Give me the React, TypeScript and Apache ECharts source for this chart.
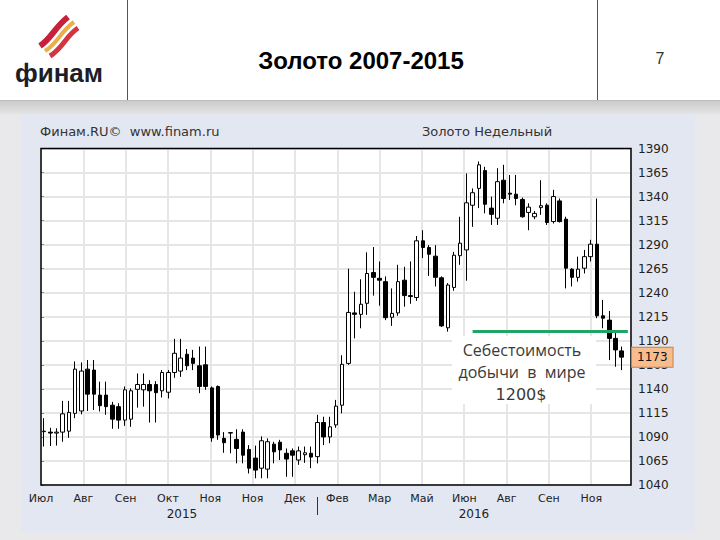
import React, { useEffect, useRef } from 'react';
import * as echarts from 'echarts';

// Weekly gold candles (price, USD)
const opens = [
  1095.5, 1095, 1094, 1095, 1096, 1114.5, 1117, 1160.5, 1159.5, 1133.5,
  1133.5, 1123, 1121.5, 1107.5, 1108.5, 1139.5, 1139, 1144.5, 1144.5, 1138,
  1136.5, 1157, 1158.5, 1176, 1172, 1164, 1165, 1141, 1142.5, 1088.5,
  1094, 1087.5, 1095, 1077, 1068, 1057.5, 1056.5, 1082.5, 1084.5, 1073,
  1075.5, 1066, 1071.5, 1073, 1069.5, 1105, 1090, 1102.5, 1123, 1166.5,
  1219, 1217.5, 1229, 1261, 1255, 1251.5, 1214.5, 1219, 1253, 1237,
  1235, 1294, 1287, 1278, 1255.5, 1203.5, 1245.5, 1278.5, 1284.5, 1331,
  1348.5, 1367, 1328, 1317.5, 1357, 1343.5, 1342.5, 1337, 1323.5, 1319,
  1328.5, 1331, 1314, 1335.5, 1316.5, 1264.5, 1256, 1265.5, 1277.5, 1290.5,
  1216, 1211.5, 1192.5, 1179.5,
];
const closes = [
  1096, 1094, 1095, 1114, 1115.5, 1160.5, 1158.5, 1134.5, 1134.5, 1122.5,
  1121.5, 1108.5, 1107.5, 1139, 1138, 1144.5, 1144.5, 1138, 1136, 1157,
  1157, 1177, 1172, 1164, 1166.5, 1142.5, 1142.5, 1089, 1092, 1084,
  1094.5, 1078, 1071, 1057.5, 1055.5, 1086, 1085, 1074.5, 1076.5, 1067,
  1071, 1075.5, 1073.5, 1069, 1105, 1090, 1100.5, 1122, 1165.5, 1219.5,
  1217.5, 1228, 1260, 1256, 1253, 1214, 1218.5, 1251.5, 1237, 1236,
  1294, 1287, 1280, 1256, 1205.5, 1248, 1279, 1291.5, 1333.5, 1344,
  1373, 1332, 1321.5, 1355.5, 1338, 1342.5, 1338, 1319, 1329, 1322.5,
  1330.5, 1313, 1340, 1314, 1265.5, 1256, 1264.5, 1277.5, 1290.5, 1216,
  1213.5, 1192.5, 1180.5, 1173,
];
const lows = [
  1080, 1080.5, 1081, 1085, 1089, 1109.5, 1113.5, 1117, 1118, 1116.5,
  1113, 1098.5, 1098.5, 1101.5, 1100.5, 1120.5, 1121.5, 1105, 1105, 1131,
  1130, 1151.5, 1152.5, 1159.5, 1159.5, 1135.5, 1139, 1085, 1087, 1073.5,
  1073, 1062.5, 1062.5, 1052, 1047, 1047, 1047, 1062.5, 1066, 1048.5,
  1048.5, 1061, 1063, 1057.5, 1062.5, 1081.5, 1083.5, 1099.5, 1114.5, 1165,
  1192.5, 1203, 1217, 1237, 1226.5, 1211.5, 1205.5, 1216, 1225.5, 1228.5,
  1231.5, 1276, 1257.5, 1246.5, 1204.5, 1199.5, 1242, 1269, 1252.5, 1308.5,
  1328, 1322.5, 1310.5, 1310.5, 1333, 1336.5, 1331, 1318, 1305, 1316.5,
  1321, 1310.5, 1312, 1313, 1244.5, 1246.5, 1251.5, 1260, 1272.5, 1213.5,
  1203, 1170, 1163, 1159.5,
];
const highs = [
  1109.5, 1099.5, 1099, 1127.5, 1127.5, 1168.5, 1167.5, 1170, 1170, 1147.5,
  1147.5, 1126.5, 1125, 1142.5, 1140.5, 1156, 1156, 1149, 1148, 1159.5,
  1159.5, 1192, 1192, 1181.5, 1180.5, 1184, 1184, 1142.5, 1143.5, 1095,
  1095, 1098, 1098, 1081.5, 1081, 1090.5, 1088.5, 1085, 1087, 1078,
  1078, 1080, 1080, 1080, 1113, 1111, 1111, 1128.5, 1175, 1265,
  1241, 1254, 1282, 1287.5, 1272.5, 1257, 1244.5, 1269, 1267, 1272.5,
  1299, 1305, 1289.5, 1289.5, 1257, 1250, 1282.5, 1319, 1364, 1348.5,
  1376.5, 1371, 1340, 1369.5, 1373, 1362.5, 1362.5, 1339, 1333, 1325,
  1357, 1333, 1347, 1338, 1319, 1265.5, 1277.5, 1284.5, 1295, 1338,
  1232.5, 1221, 1200, 1184,
];

// one empty slot after the last week
const weeks = [...opens.map((_, i) => `W${i + 1}`), `W${opens.length + 1}`];

const monthLabels = ['Июл', 'Авг', 'Сен', 'Окт', 'Ноя', 'Ноя', 'Дек', 'Фев', 'Мар', 'Май', 'Июн', 'Авг', 'Сен', 'Ноя'];
const yearLabels = ['2015', '2016'];
const costLevel = 1200;
const costStartWeek = 69;
const lastPrice = 1173;

const candleData = opens.map((o, i) => [o, closes[i], lows[i], highs[i]]);

const FONT_AXIS = 'DejaVu Sans';

function buildOption() {
  const graphic: any[] = [
    // page backgrounds
    { type: 'rect', z: -10, shape: { x: 0, y: 0, width: 720, height: 540 }, style: { fill: '#e9e9ec' } },
    { type: 'rect', z: -10, shape: { x: 0, y: 0, width: 720, height: 100 }, style: { fill: '#ffffff' } },
    {
      type: 'rect', z: -10, shape: { x: 0, y: 100, width: 720, height: 14 },
      style: { fill: new echarts.graphic.LinearGradient(0, 0, 0, 1, [{ offset: 0, color: '#c9c9c9' }, { offset: 1, color: '#e4e4e4' }]) },
    },
    { type: 'rect', z: -9, shape: { x: 21, y: 114, width: 674, height: 418 }, style: { fill: '#e3e7f1' } },
    // header separators
    { type: 'line', z: 5, shape: { x1: 127.5, y1: 0, x2: 127.5, y2: 100 }, style: { stroke: '#555', lineWidth: 1 } },
    { type: 'line', z: 5, shape: { x1: 597.5, y1: 0, x2: 597.5, y2: 100 }, style: { stroke: '#555', lineWidth: 1 } },
    { type: 'line', z: 5, shape: { x1: 0, y1: 100.5, x2: 720, y2: 100.5 }, style: { stroke: '#bdbdbd', lineWidth: 1 } },
    // logo emblem
    { type: 'bezierCurve', z: 5, shape: { x1: 40, y1: 46, cpx1: 52, cpy1: 38, cpx2: 54, cpy2: 28, x2: 68, y2: 17 }, style: { stroke: '#c8203a', lineWidth: 6, fill: null } },
    { type: 'bezierCurve', z: 5, shape: { x1: 45, y1: 51, cpx1: 58, cpy1: 43, cpx2: 60, cpy2: 32, x2: 74, y2: 22 }, style: { stroke: '#e9b04a', lineWidth: 4, fill: null } },
    { type: 'bezierCurve', z: 5, shape: { x1: 50, y1: 56, cpx1: 63, cpy1: 48, cpx2: 65, cpy2: 37, x2: 78, y2: 28 }, style: { stroke: '#d2353f', lineWidth: 5, fill: null } },
    { type: 'text', z: 5, style: { text: 'финам', x: 59, y: 73, textAlign: 'center', textVerticalAlign: 'middle', font: 'bold 26px "Liberation Sans"', fill: '#1d1d28' } },
    // header texts
    { type: 'text', z: 5, style: { text: 'Золото 2007-2015', x: 361, y: 60, textAlign: 'center', textVerticalAlign: 'middle', font: 'bold 24px "Liberation Sans"', fill: '#000' } },
    { type: 'text', z: 5, style: { text: '7', x: 660, y: 58, textAlign: 'center', textVerticalAlign: 'middle', font: '16px "Liberation Sans"', fill: '#333' } },
    // panel header texts
    { type: 'text', z: 5, style: { text: 'Финам.RU©  www.finam.ru', x: 40, y: 131, textAlign: 'left', textVerticalAlign: 'middle', font: `13px "${FONT_AXIS}"`, fill: '#333' } },
    { type: 'text', z: 5, style: { text: 'Золото Недельный', x: 487, y: 131, textAlign: 'center', textVerticalAlign: 'middle', font: `13px "${FONT_AXIS}"`, fill: '#333' } },
    // year labels and separator
    { type: 'text', z: 5, style: { text: yearLabels[0], x: 182, y: 514, textAlign: 'center', textVerticalAlign: 'middle', font: `12px "${FONT_AXIS}"`, fill: '#222' } },
    { type: 'text', z: 5, style: { text: yearLabels[1], x: 474, y: 514, textAlign: 'center', textVerticalAlign: 'middle', font: `12px "${FONT_AXIS}"`, fill: '#222' } },
    { type: 'line', z: 5, shape: { x1: 317.5, y1: 497, x2: 317.5, y2: 515 }, style: { stroke: '#333', lineWidth: 1 } },
    // annotation box
    { type: 'rect', z: 10, shape: { x: 452, y: 336, width: 144, height: 68 }, style: { fill: '#ffffff' } },
    { type: 'text', z: 11, style: { text: 'Себестоимость', x: 522, y: 350, textAlign: 'center', textVerticalAlign: 'middle', font: '16px "Open Sans"', fill: '#3a3a3a' } },
    { type: 'text', z: 11, style: { text: 'добычи  в  мире', x: 522, y: 372, textAlign: 'center', textVerticalAlign: 'middle', font: '16px "Open Sans"', fill: '#3a3a3a' } },
    { type: 'text', z: 11, style: { text: `${costLevel}$`, x: 521, y: 394, textAlign: 'center', textVerticalAlign: 'middle', font: '16px "DejaVu Sans"', fill: '#3a3a3a' } },
    // plot frame
    { type: 'rect', z: 20, shape: { x: 41, y: 148.5, width: 590, height: 336.5 }, style: { fill: null, stroke: '#000', lineWidth: 1.5 } },
  ];

  return {
    animation: false,
    backgroundColor: 'transparent',
    grid: { left: 41, right: 89, top: 148.5, bottom: 55, show: true, backgroundColor: '#ffffff', borderWidth: 0 },
    xAxis: [
      { type: 'category', data: weeks, boundaryGap: true, show: false },
      {
        type: 'value', min: 0, max: 13.94, interval: 1, position: 'bottom',
        axisLine: { show: false }, axisTick: { show: false },
        axisLabel: {
          formatter: (v: number) => monthLabels[Math.round(v)] ?? '',
          fontFamily: FONT_AXIS, fontSize: 11, color: '#222', margin: 8, showMaxLabel: false,
        },
        splitLine: { show: true, lineStyle: { color: '#e6e6e6', width: 2 } },
      },
    ],
    yAxis: {
      type: 'value', position: 'right', min: 1040, max: 1390, interval: 25,
      axisLine: { show: false },
      axisTick: { show: true, length: 3, lineStyle: { color: '#888' } },
      axisLabel: { fontFamily: FONT_AXIS, fontSize: 12, color: '#222', margin: 7, formatter: (v: number) => String(v) },
      splitLine: { show: true, lineStyle: { color: '#e6e6e6', width: 2 } },
    },
    series: [
      {
        type: 'candlestick',
        xAxisIndex: 0,
        data: candleData,
        barWidth: 4,
        itemStyle: { color: '#ffffff', color0: '#000000', borderColor: '#000000', borderColor0: '#000000', borderWidth: 1 },
        markLine: {
          silent: true,
          symbol: 'none',
          z: 30,
          label: { show: false },
          data: [
            [
              { coord: [weeks[costStartWeek], costLevel], lineStyle: { color: '#1fa463', width: 3, type: 'solid' }, label: { show: false } },
              { coord: [weeks[weeks.length - 1], costLevel] },
            ],
            {
              yAxis: lastPrice,
              lineStyle: { color: 'rgba(0,0,0,0)', width: 1, type: 'solid' },
              label: {
                show: true, position: 'end', distance: 1, formatter: String(lastPrice),
                fontFamily: FONT_AXIS, fontSize: 12, color: '#111',
                backgroundColor: '#f7bd8f', borderColor: '#c98046', borderWidth: 1,
                padding: [4, 5, 3, 5],
              },
            },
          ],
        },
      },
    ],
    graphic,
  };
}

export default function App() {
  const ref = useRef<HTMLDivElement>(null);
  useEffect(() => {
    document.body.style.margin = '0';
    const chart = echarts.init(ref.current!, null, { renderer: 'svg' });
    chart.setOption(buildOption() as any);
    return () => chart.dispose();
  }, []);
  return <div ref={ref} style={{ width: 720, height: 540, position: 'absolute', left: 0, top: 0 }} />;
}
